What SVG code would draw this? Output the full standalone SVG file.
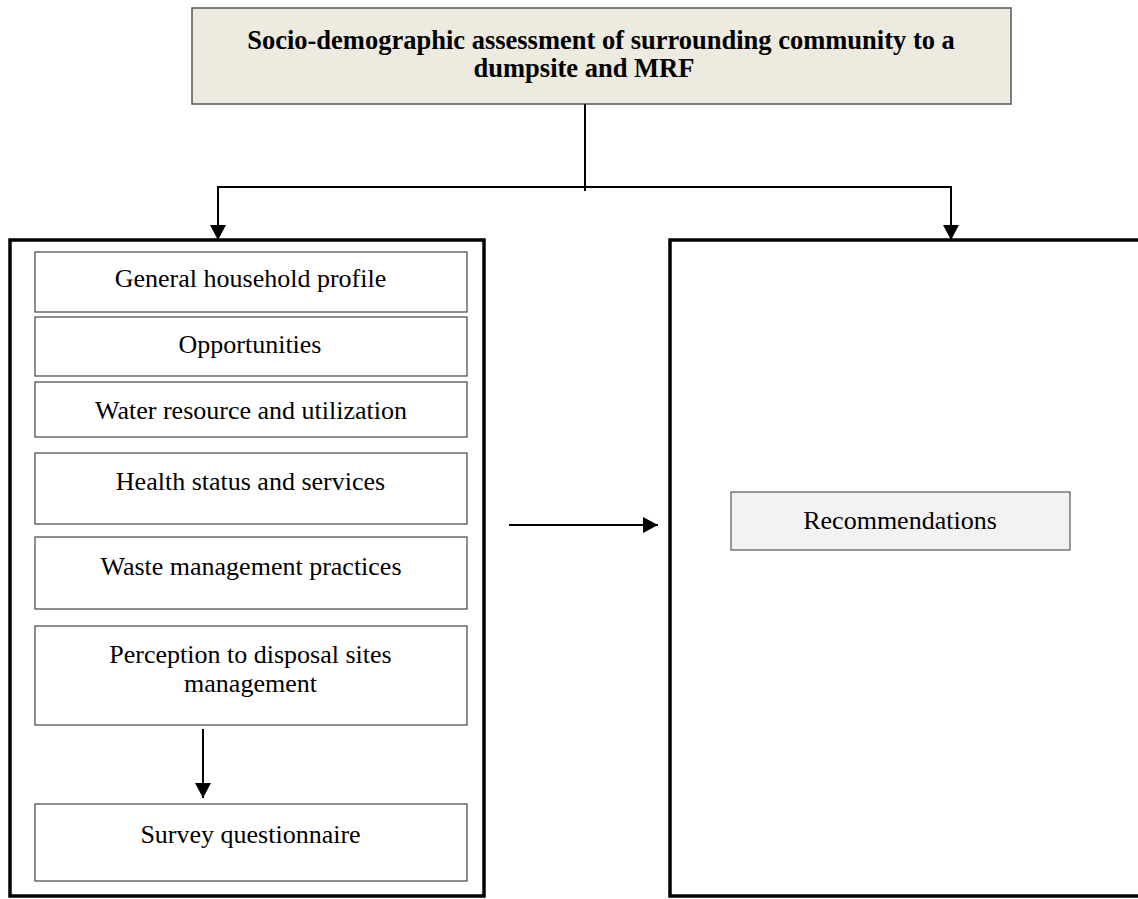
<svg xmlns="http://www.w3.org/2000/svg" width="1138" height="899" viewBox="0 0 1138 899">
<style>
.t{font-family:'Liberation Serif','Times New Roman',Times,serif;font-size:26px;fill:#000;text-anchor:middle;}
.tb{font-family:'Liberation Serif','Times New Roman',Times,serif;font-size:26.5px;font-weight:bold;fill:#000;text-anchor:middle;}
.sub{fill:#fff;stroke:#444;stroke-width:1.2;}
.big{fill:#fff;stroke:#000;stroke-width:3.5;}
.ln{fill:none;stroke:#000;stroke-width:2;}
</style>
<defs>
<marker id="ah" markerUnits="userSpaceOnUse" markerWidth="16" markerHeight="16" viewBox="0 0 16 16" refX="15" refY="8" orient="auto">
<path d="M0,0 L15,8 L0,16 Z" fill="#000"/>
</marker>
</defs>
<rect width="1138" height="899" fill="#fff"/>
<g id="top">
<rect x="192" y="8" width="819" height="96" fill="#edeae0" stroke="#555" stroke-width="1.5"/>
<text class="tb" x="601" y="49">Socio-demographic assessment of surrounding community to a</text>
<text class="tb" x="584" y="77">dumpsite and MRF</text>
</g>
<g id="leftpanel">
<rect class="big" x="10" y="240" width="474" height="656"/>
</g>
<g id="rightpanel">
<rect class="big" x="670" y="240" width="480" height="656"/>
</g>
<g id="n1"><rect class="sub" x="35" y="252" width="432" height="60"/><text class="t" x="250.5" y="287">General household profile</text></g>
<g id="n2"><rect class="sub" x="35" y="317" width="432" height="59"/><text class="t" x="250" y="353">Opportunities</text></g>
<g id="n3"><rect class="sub" x="35" y="382" width="432" height="55"/><text class="t" x="251" y="419">Water resource and utilization</text></g>
<g id="n4"><rect class="sub" x="35" y="453" width="432" height="71"/><text class="t" x="250.5" y="490">Health status and services</text></g>
<g id="n5"><rect class="sub" x="35" y="537" width="432" height="72"/><text class="t" x="251" y="575">Waste management practices</text></g>
<g id="n6"><rect class="sub" x="35" y="626" width="432" height="99"/><text class="t" x="250.5" y="663">Perception to disposal sites</text><text class="t" x="250.5" y="692">management</text></g>
<g id="n7"><rect class="sub" x="35" y="804" width="432" height="77"/><text class="t" x="250.5" y="843">Survey questionnaire</text></g>
<g id="n8"><rect x="731" y="492" width="339" height="58" fill="#f2f2f2" stroke="#555" stroke-width="1.2"/><text class="t" x="900" y="529">Recommendations</text></g>
<g id="connectors">
<line class="ln" x1="585" y1="104" x2="585" y2="191" stroke-width="1.5"/>
<line class="ln" x1="217" y1="187" x2="952" y2="187"/>
<line class="ln" x1="218" y1="187" x2="218" y2="240" marker-end="url(#ah)"/>
<line class="ln" x1="951" y1="187" x2="951" y2="240" marker-end="url(#ah)" stroke-width="1.5"/>
<line class="ln" x1="203" y1="729" x2="203" y2="798" marker-end="url(#ah)"/>
<line class="ln" x1="509" y1="525" x2="658" y2="525" marker-end="url(#ah)"/>
</g>
</svg>
